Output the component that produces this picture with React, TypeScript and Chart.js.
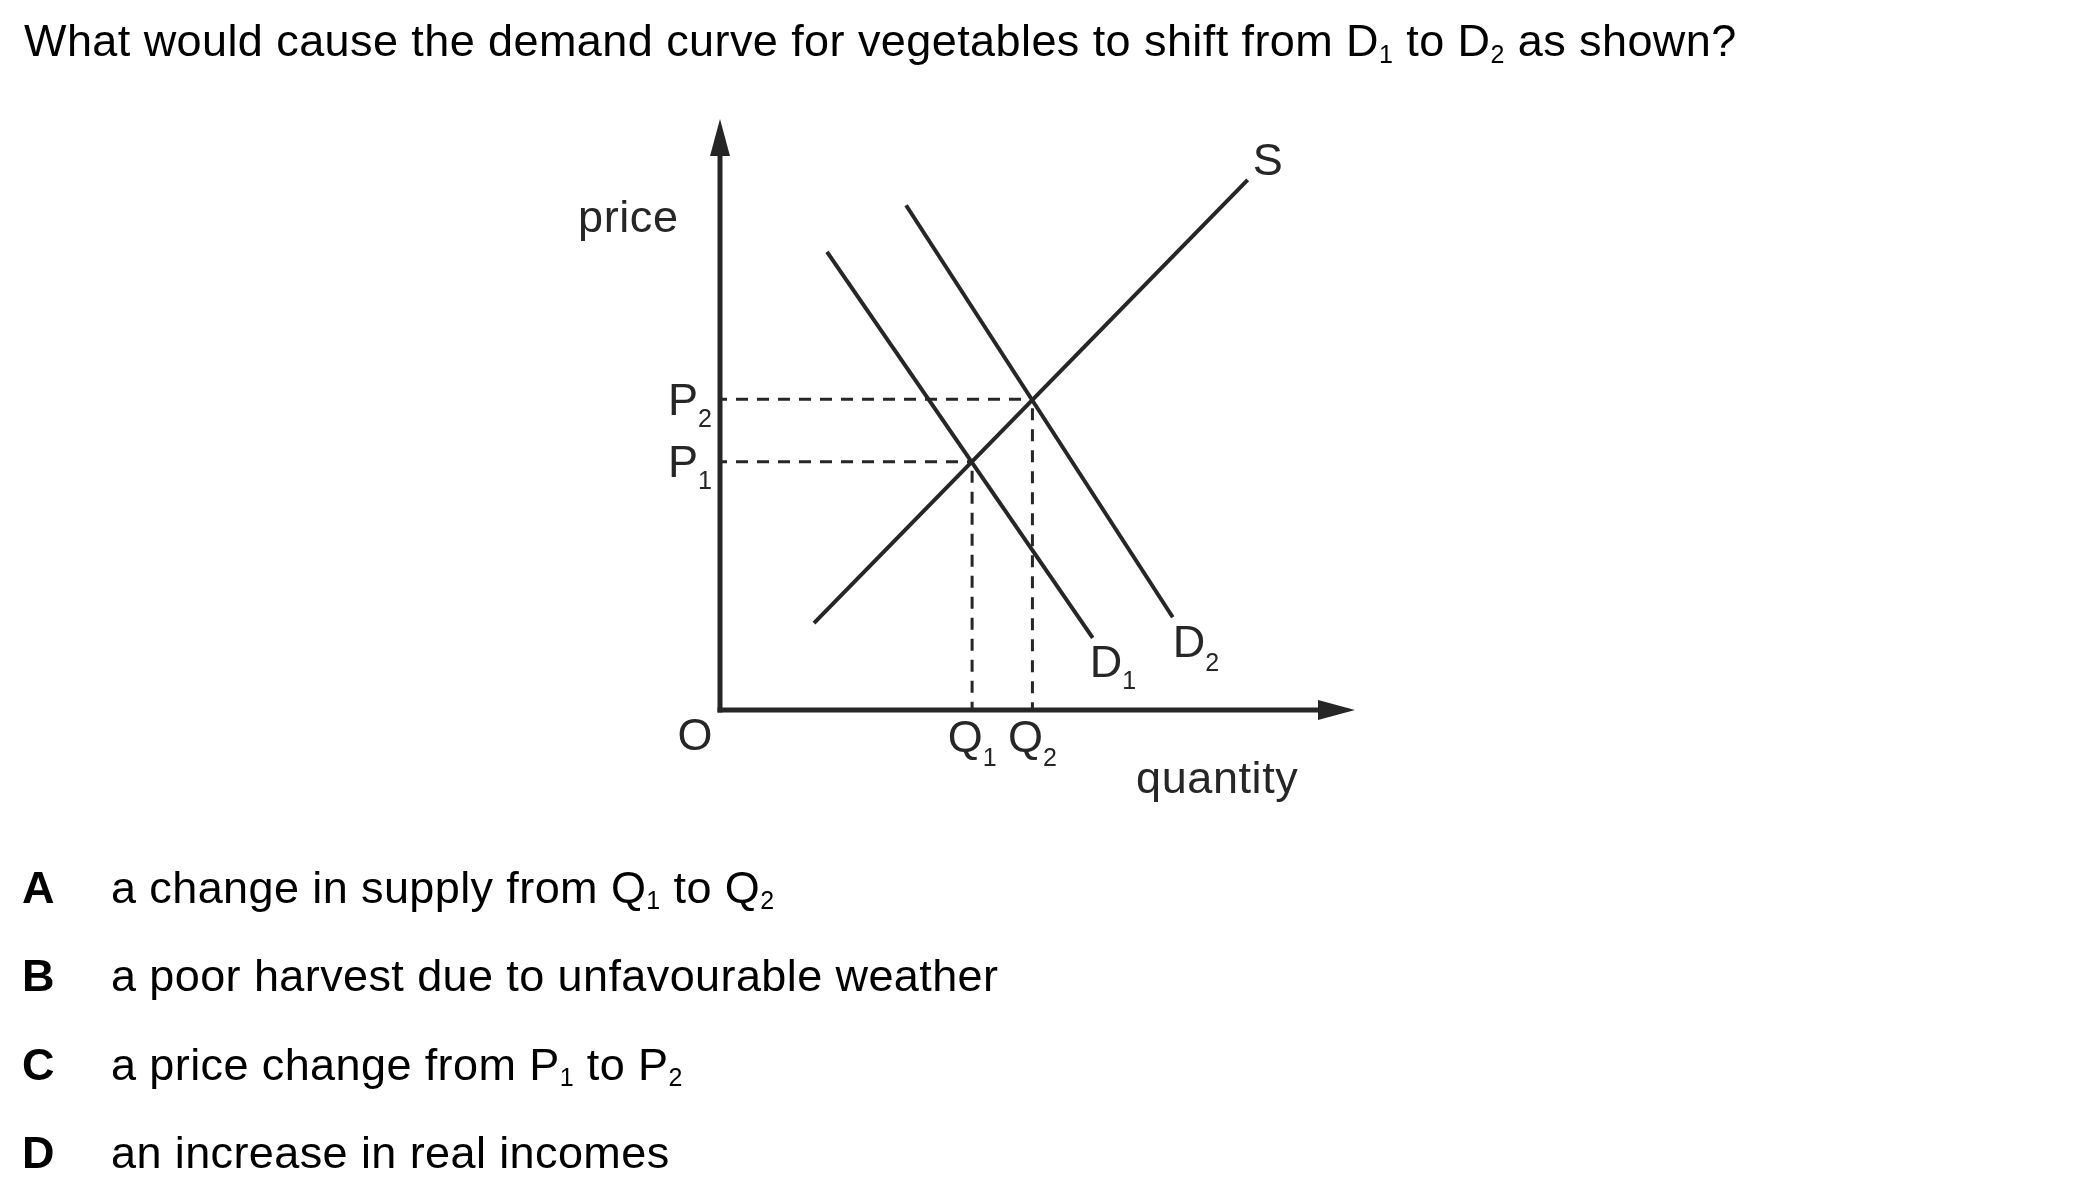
import React, { useEffect, useRef } from "react";
import { Chart, registerables } from "chart.js";

Chart.register(...registerables);

// ---------- data ----------
const X_MAX = 100; // quantity axis arrow tip
const Y_MAX = 100; // price axis arrow tip

const supplyX = [14.8, 83.1];
const supplyY = [14.7, 89.7];
const demand1X = [16.85, 58.7];
const demand1Y = [77.5, 12.2];
const demand2X = [29.3, 71.3];
const demand2Y = [85.4, 15.7];

const quantityTicks = [39.7, 49.2]; // Q1, Q2
const priceTicks = [42.0, 52.6]; // P1, P2
const quantityTickLabels = [["Q", "1"], ["Q", "2"]];
const priceTickLabels = [["P", "1"], ["P", "2"]];
const curveLabels = [["S", ""], ["D", "1"], ["D", "2"]];
const originLabel = "O";
const yAxisTitle = "price";
const xAxisTitle = "quantity";

const questionParts = ["What would cause the demand curve for vegetables to shift from D", "1", " to D", "2", " as shown?"];
const answerLetters = ["A", "B", "C", "D"];
const answerTexts: string[][] = [
  ["a change in supply from Q", "1", " to Q", "2"],
  ["a poor harvest due to unfavourable weather"],
  ["a price change from P", "1", " to P", "2"],
  ["an increase in real incomes"],
];

// ---------- styles ----------
const FONT = '"Liberation Sans", Arial, Helvetica, sans-serif';
const INK = "#262626";
const LABEL_PX = 45;
const SUB_PX = 25;

function pts(xs: number[], ys: number[]) {
  return xs.map((x, i) => ({ x, y: ys[i] }));
}

function setSpacing(ctx: any, v: string) {
  if ("letterSpacing" in ctx) ctx.letterSpacing = v;
}

function drawSubText(
  ctx: CanvasRenderingContext2D,
  main: string,
  sub: string,
  x: number,
  baseline: number,
  align: "left" | "right" | "center",
  drop: number
) {
  ctx.font = `${LABEL_PX}px ${FONT}`;
  const wm = ctx.measureText(main).width;
  ctx.font = `${SUB_PX}px ${FONT}`;
  const ws = sub ? ctx.measureText(sub).width : 0;
  const total = wm + ws;
  let sx = x;
  if (align === "right") sx = x - total;
  if (align === "center") sx = x - total / 2;
  ctx.textAlign = "left";
  ctx.textBaseline = "alphabetic";
  ctx.font = `${LABEL_PX}px ${FONT}`;
  ctx.fillText(main, sx, baseline);
  if (sub) {
    ctx.font = `${SUB_PX}px ${FONT}`;
    ctx.fillText(sub, sx + wm, baseline + drop);
  }
}

const axesPlugin = {
  id: "econAxes",
  beforeDatasetsDraw(chart: any) {
    const { ctx, scales } = chart;
    const xs = scales.x;
    const ys = scales.y;
    const x0 = xs.getPixelForValue(0);
    const y0 = ys.getPixelForValue(0);
    const xTip = xs.getPixelForValue(X_MAX);
    const yTip = ys.getPixelForValue(Y_MAX);
    const AW = 5;
    const AL = 37;
    const AH = 10;
    ctx.save();
    ctx.strokeStyle = INK;
    ctx.fillStyle = INK;
    ctx.lineWidth = AW;
    ctx.lineCap = "butt";
    ctx.beginPath();
    ctx.moveTo(x0, y0 + AW / 2);
    ctx.lineTo(x0, yTip + AL - 2);
    ctx.stroke();
    ctx.beginPath();
    ctx.moveTo(x0 - AW / 2, y0);
    ctx.lineTo(xTip - AL + 2, y0);
    ctx.stroke();
    ctx.beginPath();
    ctx.moveTo(x0, yTip);
    ctx.lineTo(x0 - AH, yTip + AL);
    ctx.lineTo(x0 + AH, yTip + AL);
    ctx.closePath();
    ctx.fill();
    ctx.beginPath();
    ctx.moveTo(xTip, y0);
    ctx.lineTo(xTip - AL, y0 - AH);
    ctx.lineTo(xTip - AL, y0 + AH);
    ctx.closePath();
    ctx.fill();
    ctx.restore();
  },
  afterDatasetsDraw(chart: any) {
    const { ctx, scales, chartArea } = chart;
    const xs = scales.x;
    const ys = scales.y;
    const x0 = xs.getPixelForValue(0);
    const y0 = ys.getPixelForValue(0);
    ctx.save();
    ctx.fillStyle = INK;
    setSpacing(ctx, "0px");
    // price ticks
    priceTicks.forEach((p, i) => {
      const py = ys.getPixelForValue(p);
      drawSubText(ctx, priceTickLabels[i][0], priceTickLabels[i][1], x0 - 8, py + 15.5, "right", 12);
    });
    // quantity ticks
    quantityTicks.forEach((q, i) => {
      const qx = xs.getPixelForValue(q);
      drawSubText(ctx, quantityTickLabels[i][0], quantityTickLabels[i][1], qx, y0 + 42, "center", 14);
    });
    // origin
    ctx.font = `${LABEL_PX}px ${FONT}`;
    ctx.textAlign = "center";
    ctx.fillText(originLabel, x0 - 25, y0 + 40);
    // axis titles
    ctx.textAlign = "left";
    setSpacing(ctx, "0.6px");
    ctx.fillText(yAxisTitle, chartArea.left - 142, chartArea.top + 113);
    ctx.fillText(xAxisTitle, chartArea.right - 219, y0 + 83);
    setSpacing(ctx, "0px");
    // curve labels
    const sEnd = { x: xs.getPixelForValue(supplyX[1]), y: ys.getPixelForValue(supplyY[1]) };
    const d1End = { x: xs.getPixelForValue(demand1X[1]), y: ys.getPixelForValue(demand1Y[1]) };
    const d2End = { x: xs.getPixelForValue(demand2X[1]), y: ys.getPixelForValue(demand2Y[1]) };
    drawSubText(ctx, curveLabels[0][0], curveLabels[0][1], sEnd.x + 5, sEnd.y - 5, "left", 12);
    drawSubText(ctx, curveLabels[1][0], curveLabels[1][1], d1End.x - 3, d1End.y + 39, "left", 12);
    drawSubText(ctx, curveLabels[2][0], curveLabels[2][1], d2End.x, d2End.y + 40, "left", 14);
    ctx.restore();
  },
};

function TextLine(props: { left: number; baseline: number; size: number; bold?: boolean; spacing?: number; children: React.ReactNode }) {
  const { left, baseline, size, bold, spacing, children } = props;
  return (
    <div
      style={{
        position: "absolute",
        left,
        top: baseline - 0.8465 * size,
        fontSize: size,
        lineHeight: `${size}px`,
        whiteSpace: "nowrap",
        fontWeight: bold ? 700 : 400,
        fontFamily: FONT,
        letterSpacing: spacing ? `${spacing}px` : undefined,
        color: "#000",
      }}
    >
      {children}
    </div>
  );
}

function renderParts(parts: string[], subSize: number, drop: number) {
  return parts.map((p, i) =>
    i % 2 === 1 ? (
      <span key={i} style={{ fontSize: subSize, position: "relative", top: drop }}>
        {p}
      </span>
    ) : (
      <span key={i}>{p}</span>
    )
  );
}

export default function App() {
  const ref = useRef<HTMLCanvasElement>(null);

  useEffect(() => {
    if (!ref.current) return;
    const lineStyle = {
      showLine: true,
      borderColor: INK,
      backgroundColor: INK,
      borderWidth: 4,
      pointRadius: 0,
      tension: 0,
      clip: false as any,
    };
    const guides: any[] = [];
    priceTicks.forEach((p, i) => {
      const q = quantityTicks[i];
      guides.push({
        ...lineStyle,
        borderWidth: 3,
        borderDash: [12, 9],
        borderDashOffset: 5,
        data: [
          { x: 0, y: p },
          { x: q, y: p },
        ],
      });
      guides.push({
        ...lineStyle,
        borderWidth: 3,
        borderDash: [12, 9],
        borderDashOffset: 12,
        data: [
          { x: q, y: p },
          { x: q, y: 0 },
        ],
      });
    });
    const chart = new Chart(ref.current, {
      type: "scatter",
      data: {
        datasets: [
          { ...lineStyle, label: "S", data: pts(supplyX, supplyY) },
          { ...lineStyle, label: "D1", data: pts(demand1X, demand1Y) },
          { ...lineStyle, label: "D2", data: pts(demand2X, demand2Y) },
          ...guides,
        ],
      },
      options: {
        responsive: false,
        animation: false,
        devicePixelRatio: 1,
        events: [],
        layout: { padding: { left: 720, top: 119, right: 745, bottom: 478 } },
        plugins: { legend: { display: false }, tooltip: { enabled: false } },
        scales: {
          x: { type: "linear", min: 0, max: X_MAX, display: false },
          y: { type: "linear", min: 0, max: Y_MAX, display: false },
        },
      },
      plugins: [axesPlugin],
    });
    return () => chart.destroy();
  }, []);

  const answerBaselines = [903, 991, 1080, 1168];

  return (
    <div
      style={{
        position: "absolute",
        left: 0,
        top: 0,
        width: 2100,
        height: 1188,
        background: "#fff",
        overflow: "hidden",
      }}
    >
      <canvas ref={ref} width={2100} height={1188} style={{ position: "absolute", left: 0, top: 0 }} />
      <TextLine left={24} baseline={56} size={45} spacing={0.42}>
        {renderParts(questionParts, 25, 7)}
      </TextLine>
      {answerLetters.map((letter, i) => (
        <React.Fragment key={letter}>
          <TextLine left={22} baseline={answerBaselines[i]} size={45} bold>
            {letter}
          </TextLine>
          <TextLine left={111} baseline={answerBaselines[i]} size={45} spacing={0.4}>
            {renderParts(answerTexts[i], 25, 6)}
          </TextLine>
        </React.Fragment>
      ))}
    </div>
  );
}
